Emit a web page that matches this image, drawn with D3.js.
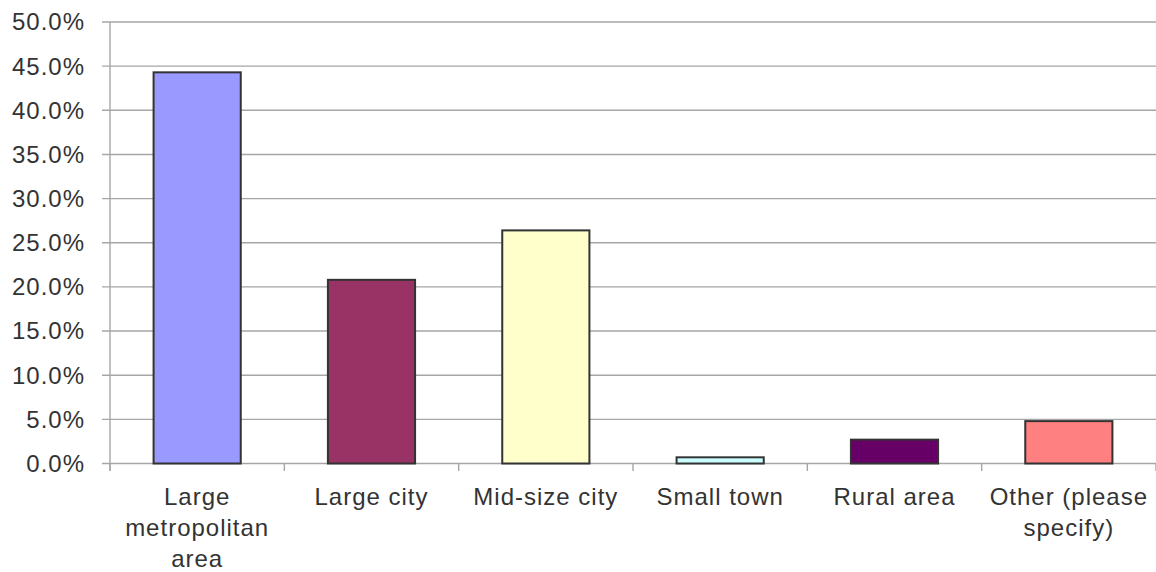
<!DOCTYPE html>
<html>
<head>
<meta charset="utf-8">
<script src="https://cdn.jsdelivr.net/npm/d3@7"></script>
<style>
  html, body { margin: 0; padding: 0; background: #ffffff; }
  svg { display: block; }
  text { font-family: "Liberation Sans", Arial, sans-serif; fill: #333333; letter-spacing: 1px; }
</style>
</head>
<body>
<svg id="chart" width="1156" height="572"></svg>
<script>
const categories = ["Large metropolitan area", "Large city", "Mid-size city", "Small town", "Rural area", "Other (please specify)"];
const values = [0.443, 0.208, 0.264, 0.007, 0.027, 0.048];
const barColors = ["#9999FF", "#993366", "#FFFFCC", "#CCFFFF", "#660066", "#FF8080"];
const yTicks = [0, 0.05, 0.10, 0.15, 0.20, 0.25, 0.30, 0.35, 0.40, 0.45, 0.50];

const W = 1156, H = 572;
const margin = { top: 22, right: 0, bottom: 108.5, left: 110 };
const svg = d3.select("#chart");

const x = d3.scaleBand()
  .domain(categories)
  .range([margin.left, W - margin.right])
  .paddingInner(0.5)
  .paddingOuter(0.25);

const y = d3.scaleLinear()
  .domain([0, 0.5])
  .range([H - margin.bottom, margin.top]);

const fmt = d3.format(".1%");

// gridlines
svg.append("g")
  .selectAll("line")
  .data(yTicks)
  .join("line")
  .attr("x1", margin.left - 8)
  .attr("x2", W - margin.right)
  .attr("y1", d => y(d))
  .attr("y2", d => y(d))
  .attr("stroke", "#a6a6a6")
  .attr("stroke-width", 1.4);

// y axis labels
svg.append("g")
  .selectAll("text")
  .data(yTicks)
  .join("text")
  .attr("x", margin.left - 25)
  .attr("y", d => y(d))
  .attr("dy", "0.35em")
  .attr("text-anchor", "end")
  .attr("font-size", 24)
  .text(d => fmt(d));

// y axis line
svg.append("line")
  .attr("x1", margin.left).attr("x2", margin.left)
  .attr("y1", margin.top).attr("y2", y(0) + 7.5)
  .attr("stroke", "#a6a6a6").attr("stroke-width", 1.4);

// x axis ticks at category boundaries
const step = x.step();
const bounds = d3.range(categories.length + 1).map(i => margin.left + i * step);
svg.append("g")
  .selectAll("line")
  .data(bounds)
  .join("line")
  .attr("x1", d => d).attr("x2", d => d)
  .attr("y1", y(0)).attr("y2", y(0) + 7.5)
  .attr("stroke", "#a6a6a6").attr("stroke-width", 1.4);

// bars
svg.append("g")
  .selectAll("rect")
  .data(categories)
  .join("rect")
  .attr("x", d => x(d))
  .attr("width", x.bandwidth())
  .attr("y", (d, i) => y(values[i]))
  .attr("height", (d, i) => y(0) - y(values[i]))
  .attr("fill", (d, i) => barColors[i])
  .attr("stroke", "#333333")
  .attr("stroke-width", 2);

// category labels with wrapping
const labels = svg.append("g")
  .selectAll("text")
  .data(categories)
  .join("text")
  .attr("x", d => x(d) + x.bandwidth() / 2)
  .attr("y", 505)
  .attr("text-anchor", "middle")
  .attr("font-size", 24);

labels.each(function(d) {
  const t = d3.select(this);
  const words = d.split(" ");
  const maxW = step - 4;
  let lines = [];
  let cur = [];
  const probe = t.append("tspan");
  words.forEach(w => {
    const test = cur.concat([w]).join(" ");
    probe.text(test);
    if (probe.node().getComputedTextLength() > maxW && cur.length) {
      lines.push(cur.join(" "));
      cur = [w];
    } else {
      cur.push(w);
    }
  });
  lines.push(cur.join(" "));
  probe.remove();
  const cx = +t.attr("x");
  lines.forEach((ln, i) => {
    t.append("tspan").attr("x", cx).attr("dy", i === 0 ? 0 : 31).text(ln);
  });
});
</script>
</body>
</html>
